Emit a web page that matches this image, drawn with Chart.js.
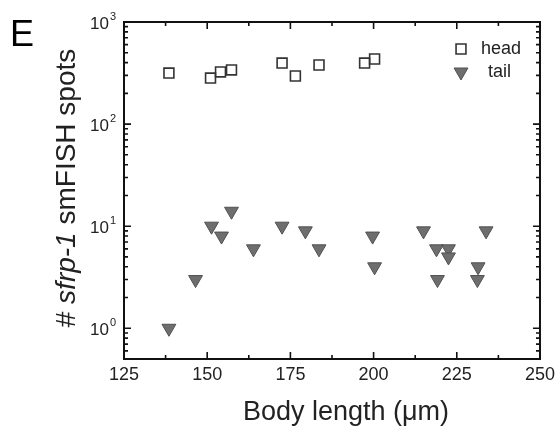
<!DOCTYPE html>
<html>
<head>
<meta charset="utf-8">
<script src="https://cdn.jsdelivr.net/npm/chart.js@4.4.0/dist/chart.umd.min.js"></script>
<style>
  html, body { margin: 0; padding: 0; background: #fff; }
  #wrap { width: 560px; height: 428px; position: relative; }
</style>
</head>
<body>
<div id="wrap"><canvas id="chart" width="560" height="428"></canvas></div>
<script>
// body length (um) and smFISH spot counts
const headLength = [138.5, 151.0, 154.0, 157.3, 172.5, 176.5, 183.6, 197.3, 200.3];
const headSpots  = [316, 282, 324, 339, 396, 296, 379, 396, 434];
const tailLength = [138.5, 146.5, 151.3, 154.3, 157.3, 163.9, 172.5, 179.5, 183.6, 199.7,
                    200.3, 215.0, 218.9, 219.2, 222.5, 222.5, 231.4, 231.2, 233.8];
const tailSpots  = [1, 3, 10, 8, 14, 6, 10, 9, 6, 8,
                    4, 9, 6, 3, 6, 5, 4, 3, 9];

const xTicks = [125, 150, 175, 200, 225, 250];
const xMinorTicks = [137.5, 162.5, 187.5, 212.5, 237.5];
const yTicks = [1, 10, 100, 1000];
const yTickExp = ['0', '1', '2', '3'];

const FONT = '"Liberation Sans", Arial, sans-serif';

function toPoints(xs, ys) {
    return xs.map((x, i) => ({ x: x, y: ys[i] }));
}

// minor log ticks 2..9 per decade inside the y range
function logMinors(min, max) {
    const out = [];
    for (let d = -1; d <= 3; d++) {
        for (let k = 2; k <= 9; k++) {
            let v = k * Math.pow(10, d);
            if (v >= min && v <= max) out.push(v);
        }
    }
    return out;
}

// frame with inward ticks on all four sides, y labels with superscripts, titles
const decorations = {
    id: 'decorations',
    afterDraw(chart) {
        const ctx = chart.ctx;
        const a = chart.chartArea;
        const xs = chart.scales.x;
        const ys = chart.scales.y;
        ctx.save();
        ctx.strokeStyle = '#111';
        ctx.lineWidth = 2;
        ctx.strokeRect(a.left, a.top, a.right - a.left, a.bottom - a.top);

        ctx.lineWidth = 1.6;
        ctx.beginPath();
        xTicks.forEach(v => {
            let px = xs.getPixelForValue(v);
            ctx.moveTo(px, a.bottom); ctx.lineTo(px, a.bottom - 7);
            ctx.moveTo(px, a.top); ctx.lineTo(px, a.top + 7);
        });
        xMinorTicks.forEach(v => {
            let px = xs.getPixelForValue(v);
            ctx.moveTo(px, a.bottom); ctx.lineTo(px, a.bottom - 4);
            ctx.moveTo(px, a.top); ctx.lineTo(px, a.top + 4);
        });
        yTicks.forEach(v => {
            let py = ys.getPixelForValue(v);
            ctx.moveTo(a.left, py); ctx.lineTo(a.left + 7, py);
            ctx.moveTo(a.right, py); ctx.lineTo(a.right - 7, py);
        });
        logMinors(ys.min, ys.max).forEach(v => {
            let py = ys.getPixelForValue(v);
            ctx.moveTo(a.left, py); ctx.lineTo(a.left + 4, py);
            ctx.moveTo(a.right, py); ctx.lineTo(a.right - 4, py);
        });
        ctx.stroke();

        // y tick labels 10^n
        ctx.fillStyle = '#222';
        yTicks.forEach((v, i) => {
            let py = ys.getPixelForValue(v);
            ctx.font = '17px ' + FONT;
            ctx.textAlign = 'right';
            ctx.textBaseline = 'middle';
            ctx.fillText('10', a.left - 15, py + 2);
            ctx.font = '11px ' + FONT;
            ctx.textAlign = 'left';
            ctx.fillText(yTickExp[i], a.left - 14, py - 5);
        });

        // x title
        ctx.font = '27px ' + FONT;
        ctx.textAlign = 'center';
        ctx.textBaseline = 'alphabetic';
        ctx.fillText('Body length (\u03bcm)', 346, 420);

        // y title with italic gene name
        const parts = [
            { t: '# ', f: '28px ' + FONT },
            { t: 'sfrp-1', f: 'italic 28px ' + FONT },
            { t: ' smFISH spots', f: '28px ' + FONT }
        ];
        let total = 0;
        parts.forEach(p => { ctx.font = p.f; p.w = ctx.measureText(p.t).width; total += p.w; });
        ctx.save();
        ctx.translate(75, 188);
        ctx.rotate(-Math.PI / 2);
        ctx.textAlign = 'left';
        let cx = -total / 2;
        parts.forEach(p => { ctx.font = p.f; ctx.fillText(p.t, cx, 0); cx += p.w; });
        ctx.restore();

        // panel letter
        ctx.fillStyle = '#000';
        ctx.font = '36px ' + FONT;
        ctx.textAlign = 'left';
        ctx.fillText('E', 10, 46);
        ctx.restore();
    }
};

// legend in the top right corner of the plot
const legendMarks = {
    id: 'legendMarks',
    afterDraw(chart) {
        const ctx = chart.ctx;
        ctx.save();
        chart.data.datasets.forEach((ds, i) => {
            let ly = 49 + i * 23;
            ctx.fillStyle = ds.pointBackgroundColor;
            ctx.strokeStyle = ds.pointBorderColor;
            ctx.lineWidth = ds.pointBorderWidth;
            Chart.helpers.drawPoint(ctx, {
                pointStyle: ds.pointStyle,
                rotation: ds.pointRotation || 0,
                radius: ds.pointRadius,
                borderWidth: ds.pointBorderWidth
            }, 461, ly);
            ctx.fillStyle = '#222';
            ctx.font = '18px ' + FONT;
            ctx.textAlign = 'left';
            ctx.textBaseline = 'middle';
            ctx.fillText(ds.label, i === 0 ? 481 : 488, ly);
        });
        ctx.restore();
    }
};

const data = {
    datasets: [
        {
            label: 'head',
            data: toPoints(headLength, headSpots),
            pointStyle: 'rect',
            pointRadius: 7,
            pointBackgroundColor: 'rgba(255,255,255,0)',
            pointBorderColor: '#333',
            pointBorderWidth: 1.6,
            showLine: false
        },
        {
            label: 'tail',
            data: toPoints(tailLength, tailSpots),
            pointStyle: 'triangle',
            pointRotation: 180,
            pointRadius: 8,
            pointBackgroundColor: '#6e6e6e',
            pointBorderColor: '#505050',
            pointBorderWidth: 1,
            showLine: false
        }
    ]
};

const options = {
    responsive: false,
    animation: false,
    layout: { padding: { left: 0, right: 18, top: 22, bottom: 0 } },
    plugins: {
        legend: { display: false },
        tooltip: { enabled: false }
    },
    scales: {
        x: {
            type: 'linear',
            min: 125,
            max: 250,
            afterBuildTicks(scale) {
                scale.ticks = xTicks.map(v => ({ value: v }));
            },
            afterFit(scale) { scale.height = 69; },
            grid: { display: false, drawTicks: false },
            border: { display: false },
            ticks: {
                padding: 5,
                color: '#222',
                font: { family: FONT, size: 18 },
                maxRotation: 0
            }
        },
        y: {
            type: 'logarithmic',
            min: 0.5,
            max: 1000,
            afterFit(scale) { scale.width = 124; },
            grid: { display: false, drawTicks: false },
            border: { display: false },
            ticks: { display: false }
        }
    }
};

new Chart(document.getElementById('chart').getContext('2d'), {
    type: 'scatter',
    data: data,
    options: options,
    plugins: [decorations, legendMarks]
});
</script>
</body>
</html>
